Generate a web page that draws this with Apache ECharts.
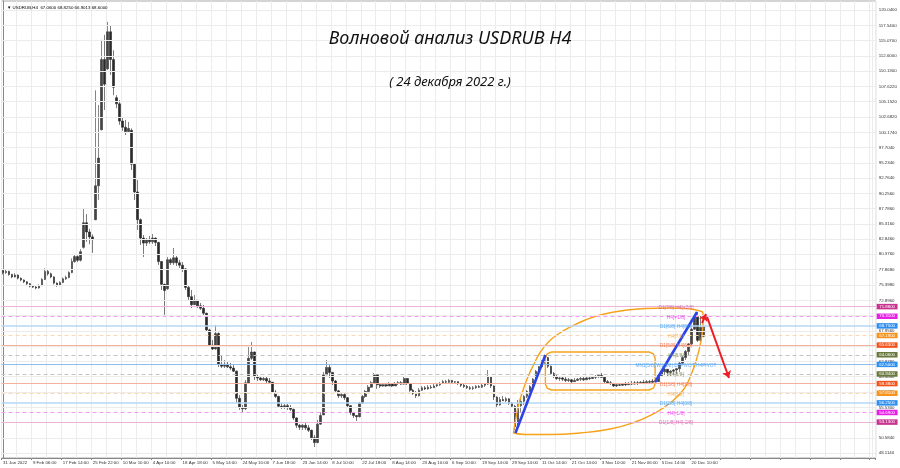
<!DOCTYPE html>
<html><head><meta charset="utf-8">
<script src="https://cdn.jsdelivr.net/npm/echarts@6/dist/echarts.min.js"></script>
<style>html,body{margin:0;padding:0;background:#fff}#c{width:900px;height:468px}</style>
</head><body><div id="c"></div>
<script>
const symbolName = 'USDRUB,H4';
const mainTitle = 'Волновой анализ USDRUB H4';
const subTitle = '( 24 декабря 2022 г.)';
const dateLabels = ['31 Jan 2022','9 Feb 06:00','17 Feb 14:00','25 Feb 22:00','10 Mar 10:00','4 Apr 10:00','18 Apr 18:00','5 May 14:00','24 May 10:00','7 Jun 18:00','23 Jun 14:00','8 Jul 10:00','22 Jul 18:00','8 Aug 14:00','23 Aug 10:00','6 Sep 10:00','19 Sep 14:00','29 Sep 14:00','11 Oct 14:00','21 Oct 14:00','3 Nov 10:00','21 Nov 06:00','5 Dec 14:00','20 Dec 10:00'];
const priceTicks = [120.04,117.54,115.07,112.60,110.13,107.622,105.152,102.682,100.174,97.704,95.234,92.764,90.256,87.786,85.316,82.846,80.376,77.868,75.398,72.896,70.426,67.956,65.448,62.978,60.508,58.038,55.530,53.054,50.584,48.114];
// [open, close, low, high]
const candles = [
[77.70,77.40,77.10,78.00],[77.40,77.60,77.20,77.90],[77.60,77.10,76.90,77.70],[77.10,76.70,76.50,77.20],[76.70,77.00,76.60,77.30],
[77.00,76.50,76.30,77.10],[76.50,76.20,76.00,76.60],[76.20,75.90,75.70,76.30],[75.90,75.60,75.40,76.00],[75.60,75.20,75.00,75.70],
[75.20,75.05,74.90,75.40],[75.05,74.90,74.70,75.20],[74.90,75.30,74.80,75.50],[75.30,76.30,75.20,76.50],[76.30,77.60,76.20,78.10],
[77.60,77.20,76.90,77.90],[77.20,76.70,76.50,77.40],[76.70,75.70,75.50,76.80],[75.70,75.30,75.10,75.80],[75.30,75.80,75.20,76.00],
[75.80,76.40,75.70,76.60],[76.40,76.60,76.20,76.90],[76.60,77.40,76.50,77.60],[77.40,79.20,77.30,79.70],[79.20,80.00,79.00,80.40],
[80.00,79.40,79.10,80.20],[79.40,80.80,79.20,81.20],[81.50,85.50,81.30,87.80],[85.50,84.00,82.40,86.90],[84.00,83.20,82.00,84.50],
[83.20,82.80,80.60,83.60],[86.00,91.50,85.90,107.00],[91.50,96.00,89.20,104.60],[100.60,112.00,100.50,115.20],[112.00,108.00,103.80,116.00],
[110.50,116.50,110.30,118.10],[116.50,112.00,109.50,117.60],[112.00,107.50,106.20,113.50],[105.80,104.80,104.10,106.20],[104.80,102.00,101.40,105.40],
[102.00,101.00,100.40,102.50],[101.00,100.30,99.75,102.20],[100.30,100.80,100.07,101.86],[100.50,95.00,94.06,100.80],[95.00,90.50,89.19,95.20],
[90.50,86.00,84.32,92.44],[86.00,83.00,81.89,86.20],[83.00,82.20,79.94,83.51],[82.20,82.80,81.72,83.02],[82.80,82.40,82.05,83.35],
[82.40,83.00,82.05,83.67],[83.00,82.30,81.72,83.10],[82.30,79.20,78.64,82.40],[79.20,75.50,74.58,79.30],[75.50,74.50,70.20,75.60],
[74.80,79.50,74.60,79.94],[79.50,79.00,78.64,79.78],[79.00,79.80,78.64,81.40],[79.80,79.00,78.48,80.10],[79.00,78.60,78.15,79.45],
[78.60,78.00,77.50,79.13],[78.00,75.00,74.58,78.15],[75.00,73.50,72.96,75.39],[73.50,72.20,71.66,74.58],[72.20,72.90,72.14,73.77],
[72.90,72.00,71.66,72.96],[72.00,71.60,71.33,72.47],[71.60,70.80,70.52,72.14],[70.80,68.10,67.90,70.90],[68.10,65.60,65.32,68.30],
[65.60,65.00,64.84,66.46],[65.00,67.50,64.90,68.90],[67.50,62.50,62.08,67.70],[62.50,62.20,61.91,64.03],[62.20,62.50,61.91,63.21],
[62.50,62.10,61.91,62.89],[62.10,61.90,61.59,62.73],[61.90,61.40,61.27,62.40],[61.40,57.00,56.23,61.50],[57.00,55.50,55.10,57.53],
[55.50,55.30,54.61,55.91],[55.30,59.50,55.10,59.97],[59.50,63.50,59.40,65.65],[63.50,64.50,63.20,66.14],[64.50,60.50,59.97,64.60],
[60.50,60.30,59.80,60.78],[60.30,60.00,59.80,60.62],[60.00,60.20,59.80,60.45],[60.20,59.80,59.48,60.45],[59.80,59.60,59.32,60.29],
[59.60,58.00,57.86,59.65],[58.00,57.30,57.04,58.34],[57.30,55.70,55.42,57.40],[55.70,55.60,55.26,56.23],[55.60,55.80,55.26,56.07],
[55.80,55.50,55.10,56.07],[55.50,55.20,54.93,55.91],[55.20,53.80,53.47,55.30],[53.80,52.60,52.17,53.90],[52.60,52.30,51.85,52.82],
[52.30,52.60,51.85,52.82],[52.60,52.20,51.85,52.99],[52.20,51.80,51.52,52.66],[51.80,50.60,50.22,51.90],[50.60,49.80,49.09,51.04],
[49.80,52.80,49.70,53.47],[52.80,54.20,52.70,54.77],[54.30,60.80,54.28,61.27],[60.80,62.00,60.78,63.21],[62.00,61.20,60.29,62.40],
[61.20,59.80,59.15,61.27],[59.80,58.20,57.86,59.97],[58.20,57.40,57.04,58.34],[57.40,57.60,57.04,58.02],[57.60,57.10,56.72,57.86],
[57.10,55.80,55.42,57.20],[55.80,54.70,54.28,55.90],[54.70,54.20,53.80,54.77],[54.20,54.00,53.31,54.28],[54.00,56.20,53.90,56.39],
[56.20,57.30,56.10,57.53],[57.30,58.10,57.04,58.34],[58.10,58.80,58.02,59.15],[58.80,59.50,58.67,59.80],[59.50,60.80,59.40,61.10],
[60.80,59.20,58.51,60.90],[59.20,59.00,58.67,59.48],[59.00,59.20,58.83,59.48],[59.20,59.00,58.83,59.48],[59.00,59.30,58.99,59.64],
[59.30,59.00,58.83,59.48],[59.00,59.40,58.99,59.64],[59.40,59.50,59.15,59.80],[59.50,59.30,59.15,59.80],[59.30,60.20,59.20,60.45],
[60.20,59.40,59.15,60.30],[59.40,58.30,58.02,59.50],[58.30,57.80,57.53,58.51],[57.80,57.40,57.04,58.18],[57.40,58.30,57.30,58.67],
[58.30,58.70,58.18,58.99],[58.70,58.50,58.34,58.99],[58.50,58.80,58.40,59.15],[58.80,58.70,58.51,59.15],[58.70,59.00,58.67,59.32],
[59.00,59.20,58.83,59.48],[59.20,59.40,58.99,59.64],[59.40,59.70,59.32,59.97],[59.70,59.60,59.32,59.97],[59.60,59.90,59.48,60.13],
[59.90,59.60,59.32,59.97],[59.60,59.70,59.32,59.80],[59.70,59.40,59.15,59.75],[59.40,59.10,58.83,59.48],[59.10,58.90,58.67,59.32],
[58.90,58.70,58.51,59.15],[58.70,58.60,58.34,58.99],[58.60,58.70,58.34,58.99],[58.70,58.90,58.51,59.15],[58.90,58.80,58.67,59.15],
[58.80,59.10,58.67,59.32],[59.10,59.30,58.83,59.48],[59.30,60.50,59.15,61.59],[60.50,59.00,58.67,60.60],[59.00,57.20,56.72,59.10],
[57.20,55.90,55.58,57.30],[55.90,56.80,55.80,57.21],[56.80,56.60,56.56,57.37],[56.60,56.90,56.39,57.21],[56.90,56.20,55.91,57.04],
[56.20,55.70,55.42,56.39],[55.70,52.40,51.85,55.91],[52.40,55.80,52.30,56.72],[55.80,56.50,54.77,57.04],[56.50,57.30,55.91,57.53],
[57.30,58.10,57.04,58.34],[58.10,58.90,57.86,59.15],[58.90,60.10,58.67,60.29],[60.10,61.40,59.97,61.59],[61.40,62.10,60.78,62.24],
[62.10,62.90,61.91,63.21],[62.90,63.60,62.56,64.03],[63.60,62.20,61.91,63.70],[62.20,61.00,60.78,62.30],[61.00,60.50,60.29,61.27],
[60.50,60.20,59.97,60.78],[60.20,60.30,59.80,60.62],[60.30,60.10,59.80,60.45],[60.10,59.90,59.64,60.45],[59.90,60.00,59.64,60.29],
[60.00,59.70,59.48,60.13],[59.70,59.90,59.64,60.29],[59.90,60.10,59.80,60.29],[60.10,60.20,59.80,60.45],[60.20,60.00,59.80,60.45],
[60.00,60.30,59.97,60.62],[60.30,60.20,59.97,60.62],[60.20,60.40,60.13,60.62],[60.40,60.50,60.13,60.78],[60.50,60.70,60.29,60.94],
[60.70,60.40,60.29,61.10],[60.40,59.70,59.48,60.45],[59.70,59.50,59.32,59.97],[59.50,59.40,59.15,59.80],[59.40,59.00,58.83,59.48],
[59.00,59.20,58.83,59.48],[59.20,59.10,58.99,59.48],[59.10,59.30,58.99,59.48],[59.30,59.20,58.99,59.64],[59.20,59.40,59.15,59.64],
[59.40,59.30,59.15,59.80],[59.30,59.50,59.25,59.80],[59.50,59.40,59.15,59.80],[59.40,59.60,59.32,59.80],[59.60,59.50,59.32,59.97],
[59.50,59.70,59.32,59.97],[59.70,59.60,59.32,59.97],[59.60,59.80,59.48,60.13],[59.80,59.70,59.48,60.29],[59.70,60.70,59.64,60.94],
[60.70,61.30,60.45,61.59],[61.30,61.70,60.78,61.91],[61.70,61.20,60.62,61.75],[61.20,61.40,60.62,61.59],[61.40,61.60,60.78,61.75],
[61.60,61.80,60.94,61.91],[61.80,62.70,61.27,62.89],[62.70,63.60,62.56,63.86],[63.60,64.60,63.21,64.84],[64.60,65.80,64.03,65.97],
[65.80,68.20,65.65,68.41],[68.20,70.30,68.09,70.52],[70.30,66.40,66.14,71.01],[66.40,68.50,65.97,70.36],[67.06,68.60,66.9013,68.825]
];
const levelValues = [71.875,70.3125,68.75,67.1875,65.625,64.0625,62.5,60.9375,59.375,57.8125,56.25,54.6875,53.125];
const levelNames = ['D1[7/8] H4[+2/8]','H4[+1/8]','D1[6/8] H4[8/8]','H4[7/8]','D1[5/8] H4[6/8]','H4[5/8]','MN1[5/8] W1[5/8] D1PIVOT H4PIVOT','H4[3/8]','D1[3/8] H4[2/8]','H4[1/8]','D1[2/8] H4[0/8]','H4[-1/8]','D1[1/8] H4[-2/8]'];
const levelLabelIndex = 224.8;
// annotation shapes in [bar index, price]
const ellipsePts = [[170.5,51.36],[171.2,53.47],[172.2,55.91],[173.5,58.02],[175.2,60.29],[177.2,62.40],[179.5,64.51],[182.2,66.14],[185.5,67.44],[189.5,68.57],[194.5,69.71],[199.5,70.52],[206.2,71.17],[214.5,71.58],[222.8,71.66],[229.5,71.49],[232.8,71.17],[233.8,70.85],[233.8,68.90],[233.2,66.46],[231.8,63.54],[229.8,60.78],[227.2,58.34],[222.8,56.23],[217.8,54.61],[211.2,53.15],[202.8,52.01],[192.8,51.36],[182.8,51.12],[174.5,51.12],[170.5,51.36]];
const rectPts = [[183.17,64.51],[215.83,64.51],[217.23,64.22],[217.83,63.54],[217.83,59.32],[217.23,58.64],[215.83,58.34],[183.17,58.34],[181.77,58.64],[181.17,59.32],[181.17,63.54],[181.77,64.22],[183.17,64.51]];
const blueWaves = [[[171.17,51.36],[181.17,64.03]],[[217.83,59.64],[231.83,71.01]]];
const redArrows = [[[233.5,69.22],[234.83,70.68]],[[235.17,70.20],[242.5,60.29]]];

const N = 292;
const FONT = 'Liberation Sans, DejaVu Sans';
const FS = 4.4;
const boxColors = ['#c7338f','#e61ee6','#2d8ff0','#f7941d','#f2541b','#6a7a3f','#2d8ff0','#6a7a3f','#f2541b','#f7941d','#2d8ff0','#e61ee6','#c7338f'];
const textColors = ['#d052a8','#ee22ee','#3a97f2','#f7a030','#f26030','#7d8c50','#3a97f2','#7d8c50','#f26030','#f7a030','#3a97f2','#ee22ee','#d052a8'];
const lineColors = ['#eeb3d8','#f59af5','#b4d8f6','#fad9ae','#f6b19d','#c4c4c4','#8cbcef','#c4c4c4','#f6b19d','#fad9ae','#b4d8f6','#f59af5','#eeb3d8'];
const dashed = [false,true,false,true,false,true,false,true,false,true,false,true,false];

const cats = Array.from({length:N}, (_, i) => (i % 10 === 0 && i / 10 < dateLabels.length) ? dateLabels[i / 10] : '');
const last = candles[candles.length - 1];
const caption = '\u25BC ' + symbolName + '  ' + [last[0], last[3], last[2], last[1]].map(v => v.toFixed(4)).join(' ');

const chart = echarts.init(document.getElementById('c'), null, {renderer:'canvas'});
const option = {
  animation:false,
  backgroundColor:'#ffffff',
  title:[
    {text:mainTitle, left:'center', top:25, textStyle:{fontFamily:'Noto Sans', fontStyle:'italic', fontWeight:'normal', fontSize:18, color:'#111'}},
    {text:subTitle, left:'center', top:71, textStyle:{fontFamily:'Noto Sans', fontStyle:'italic', fontWeight:'normal', fontSize:13, color:'#111'}},
    {text:caption, left:2, top:1, textStyle:{fontFamily:FONT, fontWeight:'normal', fontSize:FS, color:'#000'}}
  ],
  grid:{left:0, right:24, top:1, bottom:10, show:true, borderColor:'#a8a8a8', borderWidth:1},
  xAxis:[
    {type:'category', data:cats, boundaryGap:true,
     axisLine:{show:true, lineStyle:{color:'#888'}},
     axisTick:{show:true, interval:(i) => i % 10 === 0, length:2, lineStyle:{color:'#888'}},
     axisLabel:{interval:0, align:'left', margin:3, fontSize:FS, color:'#333', fontFamily:FONT},
     splitLine:{show:true, interval:4, lineStyle:{color:'#ececec', width:1}}},
    {type:'value', min:-0.5, max:N - 0.5, show:false}
  ],
  yAxis:[
    {type:'value', position:'right', min:47.30, max:121.50,
     axisLine:{show:true, lineStyle:{color:'#888'}},
     axisTick:{show:true, customValues:priceTicks, length:2, lineStyle:{color:'#888'}},
     axisLabel:{customValues:priceTicks, formatter:(v) => Number(v).toFixed(4), fontSize:FS, margin:3, color:'#333', fontFamily:FONT},
     splitLine:{show:false}}
  ],
  series:[
    {type:'line', data:[], silent:true, z:1,
     markLine:{silent:true, symbol:'none', animation:false, label:{show:false},
       lineStyle:{color:'#ececec', type:'solid', width:1},
       data:priceTicks.map(v => ({yAxis:v}))}},
    {type:'line', data:[], silent:true, z:2,
     markLine:{silent:true, symbol:'none', animation:false,
       data:levelValues.map((v, i) => ({yAxis:v,
         lineStyle:{color:lineColors[i], type:dashed[i] ? [4,3] : 'solid', width:(i === 2 || i === 10) ? 1.6 : 1},
         label:{show:true, position:'end', distance:1, formatter:(p) => Number(p.value).toFixed(4),
           backgroundColor:boxColors[i], color:'#fff', fontSize:FS, fontFamily:FONT, padding:[1,2.5,0.5,2.5]}}))}},
    {type:'candlestick', data:candles, barWidth:2.2, z:3,
     itemStyle:{color:'#444444', color0:'#2a2a2a', borderColor:'#333333', borderColor0:'#222222', borderWidth:0.6}},
    {type:'line', xAxisIndex:1, data:ellipsePts, smooth:true, symbol:'none', silent:true, z:4,
     lineStyle:{color:'#f7a21b', width:1.4}},
    {type:'line', xAxisIndex:1, data:rectPts, smooth:false, symbol:'none', silent:true, z:4,
     lineStyle:{color:'#f7a21b', width:1.4}},
    {type:'line', xAxisIndex:1, data:[], silent:true, z:5,
     markLine:{silent:true, symbol:'none', animation:false, label:{show:false},
       lineStyle:{color:'#2b44e6', width:2.6, type:'solid'},
       data:blueWaves.map(s => [{coord:s[0]}, {coord:s[1]}])}},
    {type:'line', xAxisIndex:1, data:[], silent:true, z:6,
     markLine:{silent:true, symbol:['none','arrow'], symbolSize:7, animation:false, label:{show:false},
       lineStyle:{color:'#ee1c24', width:2, type:'solid'},
       data:redArrows.map(s => [{coord:s[0]}, {coord:s[1]}])}},
    {type:'scatter', xAxisIndex:1, silent:true, z:7, symbolSize:1, itemStyle:{color:'rgba(0,0,0,0)'},
     label:{show:true, position:'inside', formatter:(p) => p.name, fontSize:4.8, fontFamily:FONT, offset:[0,1]},
     data:levelValues.map((v, i) => ({name:levelNames[i], value:[levelLabelIndex, v], label:{color:textColors[i]}}))}
  ]
};
chart.setOption(option);
</script></body></html>
